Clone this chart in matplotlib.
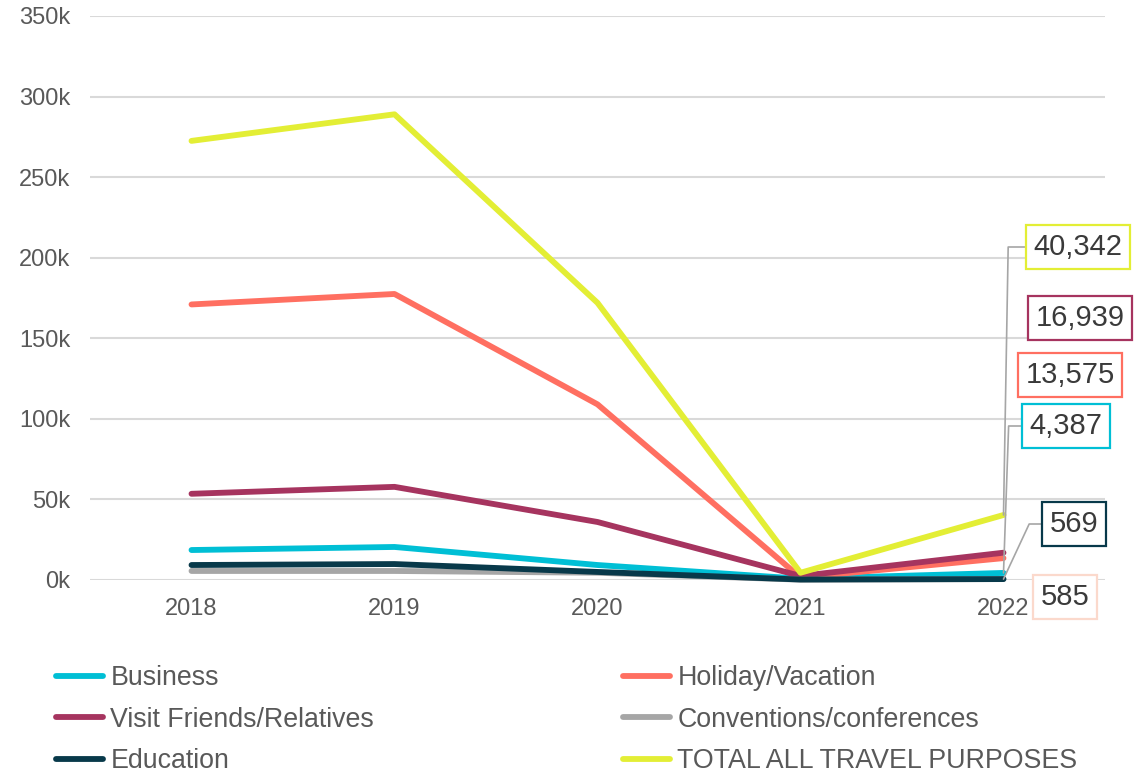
import matplotlib
matplotlib.use("Agg")
import matplotlib.pyplot as plt
from matplotlib.lines import Line2D

plt.rcParams['font.family'] = ['Liberation Sans', 'DejaVu Sans']

years = ["2018", "2019", "2020", "2021", "2022"]

business = [18600, 20500, 9300, 800, 4387]
holiday = [171000, 177500, 109000, 1500, 13575]
vfr = [53500, 57800, 36000, 2500, 16939]
conventions = [5600, 5600, 4500, 200, 585]
education = [9300, 9900, 5000, 300, 569]
total = [272500, 289000, 172000, 4500, 40342]

series_names = ["Business", "Holiday/Vacation", "Visit Friends/Relatives",
                "Conventions/conferences", "Education", "TOTAL ALL TRAVEL PURPOSES"]
series_values = [business, holiday, vfr, conventions, education, total]
series_colors = ["#00BFD5", "#FF6F61", "#A6345F", "#A6A6A6", "#08394A", "#E3EE35"]

y_ticks = [0, 50000, 100000, 150000, 200000, 250000, 300000, 350000]
y_tick_labels = ["0k", "50k", "100k", "150k", "200k", "250k", "300k", "350k"]

fig = plt.figure(figsize=(11.45, 7.72), dpi=100)
ax = fig.add_axes([90 / 1145, 1 - 580 / 772, 1015 / 1145, 564 / 772])

x = list(range(len(years)))
# draw order: small series first, total on top
draw_order = [3, 4, 0, 1, 2, 5]
for i in draw_order:
    ax.plot(x, series_values[i], color=series_colors[i], lw=4.2,
            solid_capstyle='round', solid_joinstyle='round',
            clip_on=False, zorder=3 + i * 0.1)

ax.set_xlim(-0.5, 4.5)
ax.set_ylim(0, 350000)
ax.set_yticks(y_ticks)
ax.set_yticklabels(y_tick_labels)
ax.set_xticks(x)
ax.set_xticklabels(years)
ax.tick_params(axis='both', length=0, labelsize=17, labelcolor="#595959")
ax.tick_params(axis='y', pad=14)
ax.tick_params(axis='x', pad=13)
ax.grid(axis='y', color="#D9D9D9", lw=1.5)
ax.set_axisbelow(True)
for s in ax.spines.values():
    s.set_visible(False)

# value callouts for the last year
last = len(years) - 1
callouts = [
    # (series index, box center in pixels (x, y from top), leader angle or None)
    (5, (1078, 247), 89),
    (2, (1080, 318), None),
    (1, (1070, 375), None),
    (0, (1066, 426), 88),
    (4, (1074, 524), 65),
    (3, (1065, 597), None),
]
box_colors = {5: "#E3EE35", 2: "#A6345F", 1: "#FF6F61", 0: "#00BFD5",
              4: "#08394A", 3: "#FBD9CC"}
for idx, (cx, cy), ang in callouts:
    val = series_values[idx][last]
    fx, fy = cx / 1145, 1 - cy / 772
    arrow = None
    if ang is not None:
        arrow = dict(arrowstyle='-', color="#A6A6A6", lw=1.2,
                     connectionstyle=f"angle,angleA=0,angleB={ang},rad=0",
                     shrinkA=0, shrinkB=0)
    ax.annotate(f"{val:,}", xy=(last, val), xycoords='data',
                xytext=(fx, fy), textcoords='figure fraction',
                ha='center', va='center', fontsize=21, color="#3A3A3A",
                bbox=dict(boxstyle='square,pad=0.26', fc='white',
                          ec=box_colors[idx], lw=1.6),
                arrowprops=arrow, annotation_clip=False, zorder=10)

# legend in two columns
def legend_handle(i):
    return Line2D([], [], color=series_colors[i], lw=4.2, solid_capstyle='round')

leg_kw = dict(frameon=False, fontsize=19.3, labelcolor="#595959",
              handlelength=1.75, handletextpad=0.28, labelspacing=0.58,
              borderaxespad=0, borderpad=0, loc='upper left')
left_idx = [0, 2, 4]
right_idx = [1, 3, 5]
fig.legend([legend_handle(i) for i in left_idx],
           [series_names[i] for i in left_idx],
           bbox_to_anchor=(56 / 1145, 1 - 665 / 772), **leg_kw)
fig.legend([legend_handle(i) for i in right_idx],
           [series_names[i] for i in right_idx],
           bbox_to_anchor=(623 / 1145, 1 - 665 / 772), **leg_kw)

fig.savefig("out.png", dpi=100, facecolor='white')
